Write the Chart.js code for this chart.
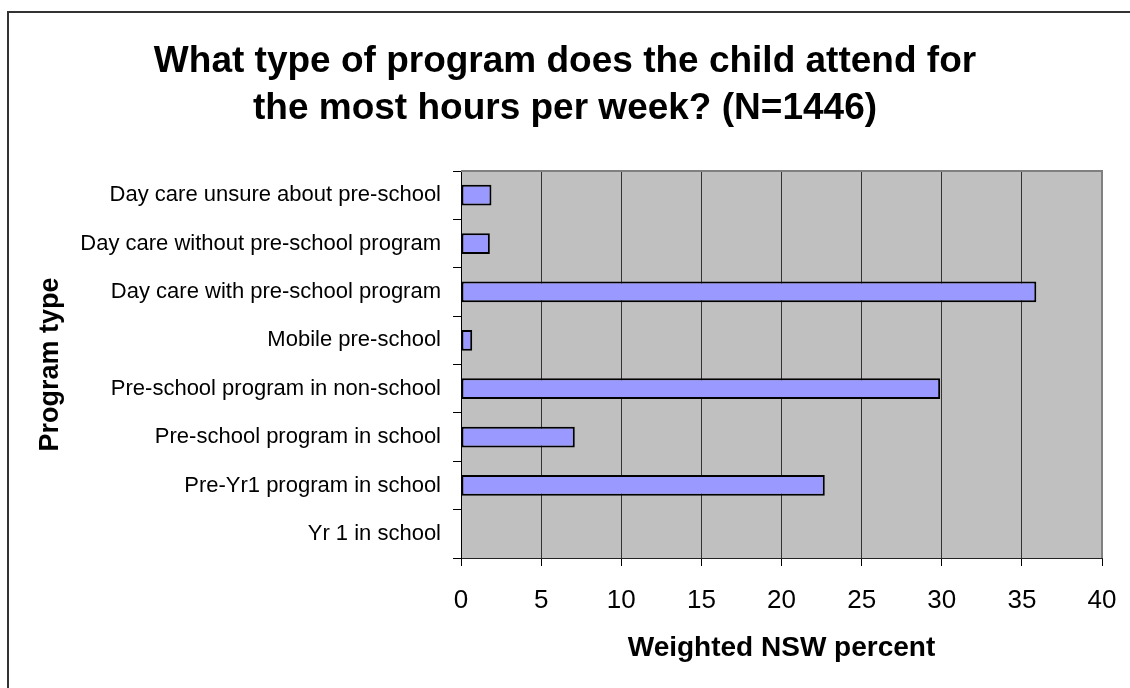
<!DOCTYPE html>
<html>
<head>
<meta charset="utf-8">
<title>Program type</title>
<script src="https://cdn.jsdelivr.net/npm/chart.js@4/dist/chart.umd.min.js"></script>
<style>
    html, body { margin:0; padding:0; background:#fff; overflow:hidden; }
    #wrap { position:relative; width:1130px; height:688px; }
    #frame { position:absolute; left:7px; top:11px; width:2000px; height:2000px; border:2px solid #333; pointer-events:none; }
</style>
</head>
<body>
<div id="wrap">
    <canvas id="programChart" width="1130" height="688"></canvas>
    <div id="frame"></div>
</div>
<script>
const programTypes = [
    "Day care unsure about pre-school",
    "Day care without pre-school program",
    "Day care with pre-school program",
    "Mobile pre-school",
    "Pre-school program in non-school",
    "Pre-school program in school",
    "Pre-Yr1 program in school",
    "Yr 1 in school"
];
const weightedPercent = [1.9, 1.8, 35.9, 0.7, 29.9, 7.1, 22.7, 0];
const xTicks = [0, 5, 10, 15, 20, 25, 30, 35, 40];

const titleLines = ["What type of program does the child attend for", "the most hours per week? (N=1446)"];

// gray plot area like the old spreadsheet charts
const plotBackground = {
    id: 'plotBackground',
    beforeDraw(chart) {
        const {ctx, chartArea} = chart;
        ctx.save();
        ctx.fillStyle = '#C0C0C0';
        ctx.fillRect(chartArea.left, chartArea.top, chartArea.right - chartArea.left, chartArea.bottom - chartArea.top);
        ctx.restore();
    },
    afterDraw(chart) {
        const {ctx, chartArea} = chart;
        ctx.save();
        ctx.strokeStyle = '#808080';
        ctx.lineWidth = 2;
        ctx.beginPath();
        ctx.moveTo(chartArea.left, chartArea.top);
        ctx.lineTo(chartArea.right, chartArea.top);
        ctx.lineTo(chartArea.right, chartArea.bottom);
        ctx.stroke();
        ctx.restore();
    }
};

new Chart(document.getElementById('programChart'), {
    type: 'bar',
    data: {
        labels: programTypes,
        datasets: [{
            data: weightedPercent,
            backgroundColor: '#9999FF',
            borderColor: '#000',
            borderWidth: 2,
            borderSkipped: false,
            barPercentage: 0.43,
            categoryPercentage: 1
        }]
    },
    options: {
        indexAxis: 'y',
        responsive: false,
        animation: false,
        layout: { padding: 0 },
        plugins: {
            legend: { display: false },
            tooltip: { enabled: false },
            title: {
                display: true,
                text: titleLines,
                color: '#000',
                font: { family: 'Arial, "Liberation Sans"', size: 37, weight: 'bold', lineHeight: 47 / 37 },
                padding: { top: 38, bottom: 39 }
            }
        },
        scales: {
            x: {
                min: 0,
                max: 40,
                afterBuildTicks: (scale) => { scale.ticks = xTicks.map(v => ({value: v})); },
                afterFit: (scale) => {
                    scale.height = 130;
                    // the right strip below already leaves room for the "40" label
                    scale.paddingLeft = 0;
                    scale.paddingRight = 0;
                },
                ticks: {
                    color: '#000',
                    padding: 19,
                    maxRotation: 0,
                    font: { family: 'Arial, "Liberation Sans"', size: 26 }
                },
                grid: {
                    color: (c) => c.index === xTicks.length - 1 ? 'rgba(0,0,0,0)' : '#333',
                    tickColor: '#000',
                    tickLength: 8,
                    lineWidth: 1
                },
                border: { color: '#222', width: 1 },
                title: {
                    display: true,
                    text: 'Weighted NSW percent',
                    color: '#000',
                    font: { family: 'Arial, "Liberation Sans"', size: 28, weight: 'bold' },
                    padding: { top: 0, bottom: 23 }
                }
            },
            y: {
                afterFit: (scale) => { scale.width = 461; },
                ticks: {
                    color: '#000',
                    padding: 12,
                    font: { family: 'Arial, "Liberation Sans"', size: 22 }
                },
                grid: {
                    drawOnChartArea: false,
                    tickLength: 8,
                    color: '#000',
                    tickColor: '#000'
                },
                border: { color: '#000', width: 1 },
                title: {
                    display: true,
                    text: 'Program type',
                    color: '#000',
                    font: { family: 'Arial, "Liberation Sans"', size: 27, weight: 'bold' },
                    padding: { top: 34, bottom: 0 }
                }
            },
            // empty strip on the right so the plot stops where the reference's does
            yRight: {
                type: 'category',
                position: 'right',
                afterFit: (scale) => { scale.width = 28; },
                ticks: { display: false },
                grid: { display: false },
                border: { display: false }
            }
        }
    },
    plugins: [plotBackground]
});
</script>
</body>
</html>
